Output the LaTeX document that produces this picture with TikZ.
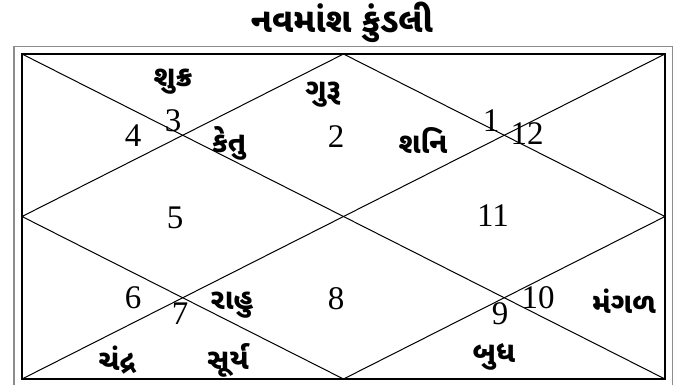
\documentclass[tikz,border=0pt]{standalone}
\usepackage{fontspec}
\setmainfont{Liberation Serif}
\newfontfamily\guj[Script=Gujarati]{Noto Sans Gujarati UI}
\tikzset{
  num/.style={font=\fontsize{33}{33}\selectfont, inner sep=0pt},
  planet/.style={font=\guj\bfseries\fontsize{29}{29}\selectfont, inner sep=0pt},
  chartline/.style={line width=1pt, black},
}
\begin{document}
\begin{tikzpicture}[x=1pt,y=-1pt]
\useasboundingbox (0,0) rectangle (688,384);
% outer gray frame
\draw[line width=1.6pt, black!45] (14,390) -- (14,46.5) -- (672.5,46.5) -- (672.5,390);
% chart corners
\coordinate (tl) at (22,54);
\coordinate (tr) at (665,54);
\coordinate (bl) at (22,379);
\coordinate (br) at (665,379);
\coordinate (tm) at (343.5,54);
\coordinate (bm) at (343.5,379);
\coordinate (lm) at (22,216.5);
\coordinate (rm) at (665,216.5);
\draw[line width=2pt] (tl) rectangle (br);
\draw[chartline] (tl) -- (br);
\draw[chartline] (tr) -- (bl);
\draw[chartline] (tm) -- (rm) -- (bm) -- (lm) -- cycle;
% title
\node[font=\guj\bfseries\fontsize{34}{34}\selectfont, inner sep=0pt] (title) at (342,22) {નવમાંશ કુંડલી};
% house numbers
\node[num] (n4) at (133,136) {4};
\node[num] (n3) at (173,121) {3};
\node[num] (n2) at (336,137) {2};
\node[num] (n1) at (491,121) {1};
\node[num] (n12) at (527,134) {12};
\node[num] (n5) at (175,218) {5};
\node[num] (n11) at (493,216) {11};
\node[num] (n6) at (133,298) {6};
\node[num] (n7) at (180,314) {7};
\node[num] (n8) at (336,299) {8};
\node[num] (n9) at (500,314) {9};
\node[num] (n10) at (538,298) {10};
% planets
\node[planet] (shukra) at (173,82) {શુક્ર};
\node[planet] (guru) at (323,95) {ગુરૂ};
\node[planet] (ketu) at (229,143) {કેતુ};
\node[planet] (shani) at (423,141) {શનિ};
\node[planet] (rahu) at (232,305) {રાહુ};
\node[planet] (mangal) at (624,301) {મંગળ};
\node[planet] (chandra) at (117,360) {ચંદ્ર};
\node[planet] (surya) at (228,360) {સૂર્ય};
\node[planet] (budh) at (494,357) {બુધ};
\end{tikzpicture}
\end{document}
